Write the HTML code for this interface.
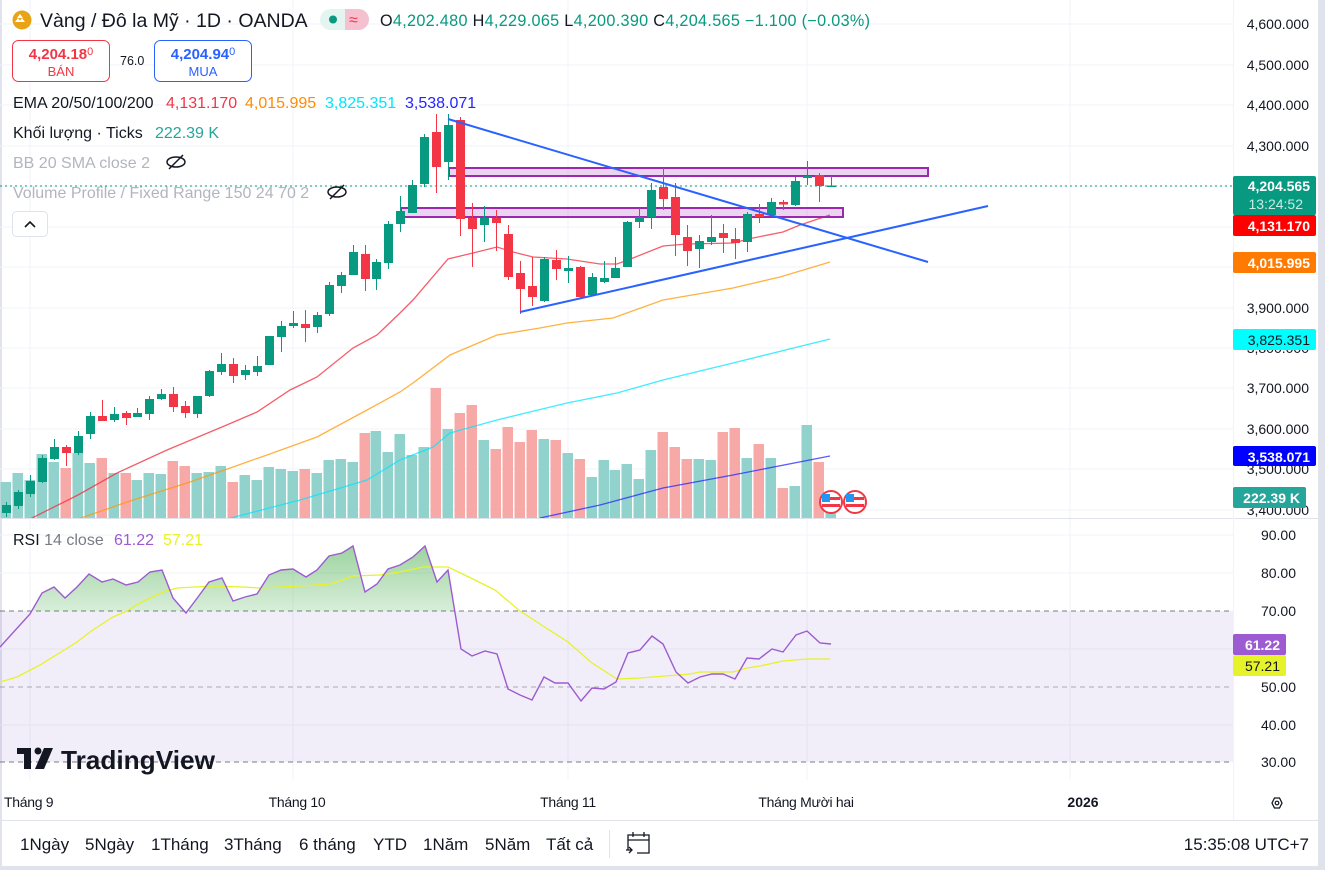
<!DOCTYPE html>
<html><head><meta charset="utf-8">
<style>
html,body{margin:0;padding:0;background:#fff;}
body{width:1325px;height:870px;overflow:hidden;position:relative;font-family:"Liberation Sans","Noto Sans CJK SC",sans-serif;}
svg text{font-family:"Liberation Sans","Noto Sans CJK SC",sans-serif;}
</style></head><body>
<svg width="1325" height="870" viewBox="0 0 1325 870" xmlns="http://www.w3.org/2000/svg">
<defs>
<clipPath id="main"><rect x="0" y="0" width="1233" height="518"/></clipPath>
<clipPath id="ob"><rect x="0" y="520" width="1233" height="91"/></clipPath>
<linearGradient id="gf" x1="0" y1="0" x2="0" y2="1"><stop offset="0" stop-color="#4caf50" stop-opacity="0.55"/><stop offset="1" stop-color="#4caf50" stop-opacity="0.02"/></linearGradient>
</defs>
<rect width="1325" height="870" fill="#fff"/>
<rect x="1318" y="0" width="7" height="870" fill="#e0e3eb"/>
<rect x="0" y="0" width="2" height="870" fill="#e0e3eb"/>
<rect x="0" y="866" width="1325" height="4" fill="#e0e3eb"/>
<g stroke="#f0f3fa" stroke-width="1">
<line x1="0" x2="1233" y1="24" y2="24"/><line x1="0" x2="1233" y1="65" y2="65"/><line x1="0" x2="1233" y1="105" y2="105"/><line x1="0" x2="1233" y1="146" y2="146"/><line x1="0" x2="1233" y1="186" y2="186"/><line x1="0" x2="1233" y1="227" y2="227"/><line x1="0" x2="1233" y1="267" y2="267"/><line x1="0" x2="1233" y1="308" y2="308"/><line x1="0" x2="1233" y1="348" y2="348"/><line x1="0" x2="1233" y1="388" y2="388"/><line x1="0" x2="1233" y1="429" y2="429"/><line x1="0" x2="1233" y1="469" y2="469"/><line x1="0" x2="1233" y1="510" y2="510"/>
<line x1="0" x2="1233" y1="535" y2="535"/><line x1="0" x2="1233" y1="573" y2="573"/><line x1="0" x2="1233" y1="649" y2="649"/><line x1="0" x2="1233" y1="725" y2="725"/>
<line x1="30" x2="30" y1="0" y2="780"/><line x1="293" x2="293" y1="0" y2="780"/><line x1="568" x2="568" y1="0" y2="780"/><line x1="807" x2="807" y1="0" y2="780"/><line x1="1070" x2="1070" y1="0" y2="780"/>
</g>
<line x1="0" x2="1318" y1="518.5" y2="518.5" stroke="#e0e3eb"/>
<line x1="0" x2="1318" y1="820.5" y2="820.5" stroke="#e0e3eb"/>
<line x1="1233.5" x2="1233.5" y1="0" y2="820" stroke="#f0f3fa"/>

<g clip-path="url(#main)">
<g id="vol">
<rect x="0.5" y="482" width="10.5" height="36" fill="#92d2cc"/><rect x="12.5" y="473" width="10.5" height="45" fill="#92d2cc"/><rect x="24.5" y="480" width="10.5" height="38" fill="#92d2cc"/><rect x="36.5" y="454" width="10.5" height="64" fill="#92d2cc"/><rect x="48.5" y="462" width="10.5" height="56" fill="#92d2cc"/><rect x="60.5" y="468" width="10.5" height="50" fill="#f7a9a7"/><rect x="72.5" y="453" width="10.5" height="65" fill="#92d2cc"/><rect x="84.5" y="463" width="10.5" height="55" fill="#92d2cc"/><rect x="96.5" y="458" width="10.5" height="60" fill="#f7a9a7"/><rect x="108.5" y="473" width="10.5" height="45" fill="#92d2cc"/><rect x="120.5" y="473" width="10.5" height="45" fill="#f7a9a7"/><rect x="131.5" y="480" width="10.5" height="38" fill="#92d2cc"/><rect x="143.5" y="473" width="10.5" height="45" fill="#92d2cc"/><rect x="155.5" y="474" width="10.5" height="44" fill="#92d2cc"/><rect x="167.5" y="461" width="10.5" height="57" fill="#f7a9a7"/><rect x="179.5" y="466" width="10.5" height="52" fill="#f7a9a7"/><rect x="191.5" y="473" width="10.5" height="45" fill="#92d2cc"/><rect x="203.5" y="472" width="10.5" height="46" fill="#92d2cc"/><rect x="215.5" y="466" width="10.5" height="52" fill="#92d2cc"/><rect x="227.5" y="482" width="10.5" height="36" fill="#f7a9a7"/><rect x="239.5" y="475" width="10.5" height="43" fill="#92d2cc"/><rect x="251.5" y="480" width="10.5" height="38" fill="#92d2cc"/><rect x="263.5" y="467" width="10.5" height="51" fill="#92d2cc"/><rect x="275.5" y="469" width="10.5" height="49" fill="#92d2cc"/><rect x="287.5" y="471" width="10.5" height="47" fill="#92d2cc"/><rect x="299.5" y="469" width="10.5" height="49" fill="#f7a9a7"/><rect x="311.5" y="473" width="10.5" height="45" fill="#92d2cc"/><rect x="323.5" y="460" width="10.5" height="58" fill="#92d2cc"/><rect x="335.5" y="459" width="10.5" height="59" fill="#92d2cc"/><rect x="347.5" y="462" width="10.5" height="56" fill="#92d2cc"/><rect x="359.5" y="433" width="10.5" height="85" fill="#f7a9a7"/><rect x="370.5" y="431" width="10.5" height="87" fill="#92d2cc"/><rect x="382.5" y="452" width="10.5" height="66" fill="#92d2cc"/><rect x="394.5" y="434" width="10.5" height="84" fill="#92d2cc"/><rect x="406.5" y="455" width="10.5" height="63" fill="#92d2cc"/><rect x="418.5" y="447" width="10.5" height="71" fill="#92d2cc"/><rect x="430.5" y="388" width="10.5" height="130" fill="#f7a9a7"/><rect x="442.5" y="429" width="10.5" height="89" fill="#92d2cc"/><rect x="454.5" y="413" width="10.5" height="105" fill="#f7a9a7"/><rect x="466.5" y="405" width="10.5" height="113" fill="#f7a9a7"/><rect x="478.5" y="440" width="10.5" height="78" fill="#92d2cc"/><rect x="490.5" y="449" width="10.5" height="69" fill="#f7a9a7"/><rect x="502.5" y="427" width="10.5" height="91" fill="#f7a9a7"/><rect x="514.5" y="442" width="10.5" height="76" fill="#f7a9a7"/><rect x="526.5" y="430" width="10.5" height="88" fill="#f7a9a7"/><rect x="538.5" y="439" width="10.5" height="79" fill="#92d2cc"/><rect x="550.5" y="440" width="10.5" height="78" fill="#f7a9a7"/><rect x="562.5" y="453" width="10.5" height="65" fill="#92d2cc"/><rect x="574.5" y="459" width="10.5" height="59" fill="#f7a9a7"/><rect x="586.5" y="477" width="10.5" height="41" fill="#92d2cc"/><rect x="598.5" y="460" width="10.5" height="58" fill="#92d2cc"/><rect x="609.5" y="470" width="10.5" height="48" fill="#92d2cc"/><rect x="621.5" y="464" width="10.5" height="54" fill="#92d2cc"/><rect x="633.5" y="479" width="10.5" height="39" fill="#92d2cc"/><rect x="645.5" y="450" width="10.5" height="68" fill="#92d2cc"/><rect x="657.5" y="432" width="10.5" height="86" fill="#f7a9a7"/><rect x="669.5" y="447" width="10.5" height="71" fill="#f7a9a7"/><rect x="681.5" y="459" width="10.5" height="59" fill="#f7a9a7"/><rect x="693.5" y="459" width="10.5" height="59" fill="#92d2cc"/><rect x="705.5" y="460" width="10.5" height="58" fill="#92d2cc"/><rect x="717.5" y="432" width="10.5" height="86" fill="#f7a9a7"/><rect x="729.5" y="428" width="10.5" height="90" fill="#f7a9a7"/><rect x="741.5" y="458" width="10.5" height="60" fill="#92d2cc"/><rect x="753.5" y="444" width="10.5" height="74" fill="#f7a9a7"/><rect x="765.5" y="458" width="10.5" height="60" fill="#92d2cc"/><rect x="777.5" y="488" width="10.5" height="30" fill="#f7a9a7"/><rect x="789.5" y="486" width="10.5" height="32" fill="#92d2cc"/><rect x="801.5" y="425" width="10.5" height="93" fill="#92d2cc"/><rect x="813.5" y="462" width="10.5" height="56" fill="#f7a9a7"/><rect x="825.5" y="508" width="10.5" height="10" fill="#92d2cc"/>
</g>
<polyline fill="none" stroke="#f23645" stroke-opacity="0.8" stroke-width="1.3" points="30,519 78,495 117,473 167,450 222,427 257,412 290,390 317,377 353,348 377,335 400,313 413,300 448,259 473,253 497,247 513,252 533,257 567,259 600,264 617,264 633,258 663,246 687,244 733,243 753,238 783,232 800,225 830,215"/>
<polyline fill="none" stroke="#ff9800" stroke-opacity="0.75" stroke-width="1.3" points="78,519 133,500 187,483 233,467 267,455 317,437 367,410 400,392 413,383 450,355 497,335 540,328 567,323 613,318 663,300 733,288 780,277 830,262"/>
<polyline fill="none" stroke="#00e5ff" stroke-opacity="0.75" stroke-width="1.3" points="227,519 300,500 367,480 400,460 433,447 450,433 497,420 567,403 617,393 663,380 733,363 830,339"/>
<polyline fill="none" stroke="#2424ff" stroke-opacity="0.75" stroke-width="1.3" points="540,518 600,505 663,488 733,475 830,456"/>
<line x1="0" x2="1233" y1="186" y2="186" stroke="#089981" stroke-width="1" stroke-dasharray="2,3"/>
<rect x="449" y="168" width="479" height="8" fill="#9c27b0" fill-opacity="0.2" stroke="#9c27b0" stroke-width="2"/>
<rect x="401" y="208" width="442" height="9" fill="#9c27b0" fill-opacity="0.2" stroke="#9c27b0" stroke-width="2"/>
<g id="candles">
<line x1="6.5" x2="6.5" y1="502" y2="517" stroke="#089981"/><rect x="2" y="505" width="9" height="8" fill="#089981"/>
<line x1="18.5" x2="18.5" y1="490" y2="509" stroke="#089981"/><rect x="14" y="492" width="9" height="14" fill="#089981"/>
<line x1="30.5" x2="30.5" y1="475" y2="497" stroke="#089981"/><rect x="26" y="481" width="9" height="13" fill="#089981"/>
<line x1="42.5" x2="42.5" y1="455" y2="483" stroke="#089981"/><rect x="38" y="458" width="9" height="24" fill="#089981"/>
<line x1="54.5" x2="54.5" y1="439" y2="460" stroke="#089981"/><rect x="50" y="447" width="9" height="12" fill="#089981"/>
<line x1="66.5" x2="66.5" y1="445" y2="466" stroke="#f23645"/><rect x="62" y="447" width="9" height="6" fill="#f23645"/>
<line x1="78.5" x2="78.5" y1="431" y2="455" stroke="#089981"/><rect x="74" y="436" width="9" height="17" fill="#089981"/>
<line x1="90.5" x2="90.5" y1="412" y2="439" stroke="#089981"/><rect x="86" y="416" width="9" height="18" fill="#089981"/>
<line x1="102.5" x2="102.5" y1="400" y2="421" stroke="#f23645"/><rect x="98" y="416" width="9" height="5" fill="#f23645"/>
<line x1="114.5" x2="114.5" y1="407" y2="422" stroke="#089981"/><rect x="110" y="414" width="9" height="6" fill="#089981"/>
<line x1="126.5" x2="126.5" y1="411" y2="425" stroke="#f23645"/><rect x="122" y="413" width="9" height="5" fill="#f23645"/>
<line x1="137.5" x2="137.5" y1="408" y2="417" stroke="#089981"/><rect x="133" y="413" width="9" height="4" fill="#089981"/>
<line x1="149.5" x2="149.5" y1="396" y2="420" stroke="#089981"/><rect x="145" y="399" width="9" height="15" fill="#089981"/>
<line x1="161.5" x2="161.5" y1="389" y2="400" stroke="#089981"/><rect x="157" y="394" width="9" height="5" fill="#089981"/>
<line x1="173.5" x2="173.5" y1="387" y2="412" stroke="#f23645"/><rect x="169" y="394" width="9" height="13" fill="#f23645"/>
<line x1="185.5" x2="185.5" y1="401" y2="418" stroke="#f23645"/><rect x="181" y="406" width="9" height="7" fill="#f23645"/>
<line x1="197.5" x2="197.5" y1="396" y2="418" stroke="#089981"/><rect x="193" y="396" width="9" height="18" fill="#089981"/>
<line x1="209.5" x2="209.5" y1="370" y2="397" stroke="#089981"/><rect x="205" y="371" width="9" height="25" fill="#089981"/>
<line x1="221.5" x2="221.5" y1="353" y2="375" stroke="#089981"/><rect x="217" y="364" width="9" height="8" fill="#089981"/>
<line x1="233.5" x2="233.5" y1="358" y2="383" stroke="#f23645"/><rect x="229" y="364" width="9" height="12" fill="#f23645"/>
<line x1="245.5" x2="245.5" y1="365" y2="380" stroke="#089981"/><rect x="241" y="370" width="9" height="5" fill="#089981"/>
<line x1="257.5" x2="257.5" y1="356" y2="376" stroke="#089981"/><rect x="253" y="366" width="9" height="6" fill="#089981"/>
<line x1="269.5" x2="269.5" y1="336" y2="365" stroke="#089981"/><rect x="265" y="336" width="9" height="29" fill="#089981"/>
<line x1="281.5" x2="281.5" y1="321" y2="352" stroke="#089981"/><rect x="277" y="326" width="9" height="11" fill="#089981"/>
<line x1="293.5" x2="293.5" y1="311" y2="328" stroke="#089981"/><rect x="289" y="323" width="9" height="3" fill="#089981"/>
<line x1="305.5" x2="305.5" y1="310" y2="342" stroke="#f23645"/><rect x="301" y="324" width="9" height="4" fill="#f23645"/>
<line x1="317.5" x2="317.5" y1="312" y2="333" stroke="#089981"/><rect x="313" y="315" width="9" height="12" fill="#089981"/>
<line x1="329.5" x2="329.5" y1="282" y2="316" stroke="#089981"/><rect x="325" y="285" width="9" height="29" fill="#089981"/>
<line x1="341.5" x2="341.5" y1="272" y2="293" stroke="#089981"/><rect x="337" y="275" width="9" height="11" fill="#089981"/>
<line x1="353.5" x2="353.5" y1="245" y2="275" stroke="#089981"/><rect x="349" y="252" width="9" height="23" fill="#089981"/>
<line x1="365.5" x2="365.5" y1="245" y2="291" stroke="#f23645"/><rect x="361" y="254" width="9" height="25" fill="#f23645"/>
<line x1="376.5" x2="376.5" y1="259" y2="290" stroke="#089981"/><rect x="372" y="262" width="9" height="17" fill="#089981"/>
<line x1="388.5" x2="388.5" y1="221" y2="269" stroke="#089981"/><rect x="384" y="224" width="9" height="39" fill="#089981"/>
<line x1="400.5" x2="400.5" y1="196" y2="232" stroke="#089981"/><rect x="396" y="211" width="9" height="13" fill="#089981"/>
<line x1="412.5" x2="412.5" y1="180" y2="213" stroke="#089981"/><rect x="408" y="185" width="9" height="28" fill="#089981"/>
<line x1="424.5" x2="424.5" y1="134" y2="187" stroke="#089981"/><rect x="420" y="137" width="9" height="47" fill="#089981"/>
<line x1="436.5" x2="436.5" y1="114" y2="193" stroke="#f23645"/><rect x="432" y="132" width="9" height="35" fill="#f23645"/>
<line x1="448.5" x2="448.5" y1="114" y2="180" stroke="#089981"/><rect x="444" y="125" width="9" height="37" fill="#089981"/>
<line x1="460.5" x2="460.5" y1="117" y2="236" stroke="#f23645"/><rect x="456" y="120" width="9" height="99" fill="#f23645"/>
<line x1="472.5" x2="472.5" y1="203" y2="267" stroke="#f23645"/><rect x="468" y="218" width="9" height="11" fill="#f23645"/>
<line x1="484.5" x2="484.5" y1="206" y2="242" stroke="#089981"/><rect x="480" y="218" width="9" height="7" fill="#089981"/>
<line x1="496.5" x2="496.5" y1="210" y2="251" stroke="#f23645"/><rect x="492" y="218" width="9" height="5" fill="#f23645"/>
<line x1="508.5" x2="508.5" y1="225" y2="280" stroke="#f23645"/><rect x="504" y="234" width="9" height="43" fill="#f23645"/>
<line x1="520.5" x2="520.5" y1="261" y2="314" stroke="#f23645"/><rect x="516" y="273" width="9" height="16" fill="#f23645"/>
<line x1="532.5" x2="532.5" y1="257" y2="306" stroke="#f23645"/><rect x="528" y="286" width="9" height="11" fill="#f23645"/>
<line x1="544.5" x2="544.5" y1="257" y2="302" stroke="#089981"/><rect x="540" y="259" width="9" height="42" fill="#089981"/>
<line x1="556.5" x2="556.5" y1="250" y2="280" stroke="#f23645"/><rect x="552" y="260" width="9" height="9" fill="#f23645"/>
<line x1="568.5" x2="568.5" y1="256" y2="283" stroke="#089981"/><rect x="564" y="268" width="9" height="3" fill="#089981"/>
<line x1="580.5" x2="580.5" y1="266" y2="299" stroke="#f23645"/><rect x="576" y="267" width="9" height="30" fill="#f23645"/>
<line x1="592.5" x2="592.5" y1="273" y2="296" stroke="#089981"/><rect x="588" y="277" width="9" height="18" fill="#089981"/>
<line x1="604.5" x2="604.5" y1="261" y2="283" stroke="#089981"/><rect x="600" y="278" width="9" height="4" fill="#089981"/>
<line x1="615.5" x2="615.5" y1="257" y2="278" stroke="#089981"/><rect x="611" y="268" width="9" height="10" fill="#089981"/>
<line x1="627.5" x2="627.5" y1="221" y2="267" stroke="#089981"/><rect x="623" y="222" width="9" height="45" fill="#089981"/>
<line x1="639.5" x2="639.5" y1="208" y2="228" stroke="#089981"/><rect x="635" y="217" width="9" height="5" fill="#089981"/>
<line x1="651.5" x2="651.5" y1="183" y2="229" stroke="#089981"/><rect x="647" y="190" width="9" height="27" fill="#089981"/>
<line x1="663.5" x2="663.5" y1="168" y2="210" stroke="#f23645"/><rect x="659" y="187" width="9" height="12" fill="#f23645"/>
<line x1="675.5" x2="675.5" y1="183" y2="256" stroke="#f23645"/><rect x="671" y="197" width="9" height="38" fill="#f23645"/>
<line x1="687.5" x2="687.5" y1="225" y2="266" stroke="#f23645"/><rect x="683" y="237" width="9" height="14" fill="#f23645"/>
<line x1="699.5" x2="699.5" y1="235" y2="268" stroke="#089981"/><rect x="695" y="241" width="9" height="8" fill="#089981"/>
<line x1="711.5" x2="711.5" y1="215" y2="245" stroke="#089981"/><rect x="707" y="237" width="9" height="5" fill="#089981"/>
<line x1="723.5" x2="723.5" y1="224" y2="253" stroke="#f23645"/><rect x="719" y="233" width="9" height="5" fill="#f23645"/>
<line x1="735.5" x2="735.5" y1="228" y2="259" stroke="#f23645"/><rect x="731" y="239" width="9" height="4" fill="#f23645"/>
<line x1="747.5" x2="747.5" y1="212" y2="252" stroke="#089981"/><rect x="743" y="214" width="9" height="28" fill="#089981"/>
<line x1="759.5" x2="759.5" y1="204" y2="223" stroke="#f23645"/><rect x="755" y="214" width="9" height="3" fill="#f23645"/>
<line x1="771.5" x2="771.5" y1="198" y2="215" stroke="#089981"/><rect x="767" y="202" width="9" height="13" fill="#089981"/>
<line x1="783.5" x2="783.5" y1="200" y2="210" stroke="#f23645"/><rect x="779" y="202" width="9" height="2.5" fill="#f23645"/>
<line x1="795.5" x2="795.5" y1="177" y2="206" stroke="#089981"/><rect x="791" y="181" width="9" height="24" fill="#089981"/>
<line x1="807.5" x2="807.5" y1="161" y2="185" stroke="#089981"/><rect x="803" y="176" width="9" height="2" fill="#089981"/>
<line x1="819.5" x2="819.5" y1="173" y2="202" stroke="#f23645"/><rect x="815" y="175" width="9" height="11" fill="#f23645"/>
<line x1="831.5" x2="831.5" y1="176" y2="187" stroke="#089981"/><rect x="827" y="185.5" width="9" height="1.5" fill="#089981"/>
</g>
<line x1="448" y1="119" x2="928" y2="262" stroke="#2962ff" stroke-width="2"/>
<line x1="520" y1="312" x2="988" y2="206" stroke="#2962ff" stroke-width="2"/>
<g><circle cx="831" cy="502" r="11" fill="#fff" stroke="#f23645" stroke-width="2"/><rect x="822" y="497" width="18" height="3" fill="#f23645"/><rect x="822" y="504" width="18" height="3" fill="#f23645"/><rect x="822" y="494" width="8" height="8" fill="#2196f3"/></g>
<g><circle cx="855" cy="502" r="11" fill="#fff" stroke="#f23645" stroke-width="2"/><rect x="846" y="497" width="18" height="3" fill="#f23645"/><rect x="846" y="504" width="18" height="3" fill="#f23645"/><rect x="846" y="494" width="8" height="8" fill="#2196f3"/></g>
</g>

<rect x="0" y="611" width="1233" height="151" fill="#7e57c2" fill-opacity="0.1"/>
<g stroke="#787b86" stroke-dasharray="5,4" stroke-width="1">
<line x1="0" x2="1233" y1="611" y2="611"/><line x1="0" x2="1233" y1="687" y2="687" stroke-opacity="0.6"/><line x1="0" x2="1233" y1="762" y2="762"/>
</g>
<path clip-path="url(#ob)" fill="url(#gf)" d="M0,647 L30,614 L42,593 L54,587 L65,598 L77,587 L89,574 L102,582 L113,579 L126,585 L138,582 L150,572 L162,570 L173,598 L186,613 L198,597 L209,582 L222,578 L233,601 L245,597 L257,594 L269,575 L281,570 L293,569 L306,577 L317,570 L329,556 L342,553 L353,546 L365,592 L377,584 L388,569 L400,565 L413,557 L425,546 L437,582 L448,570 L461,649 L461,611 L0,611 Z"/>
<polyline fill="none" stroke="#e6f22a" stroke-width="1.3" points="0,682 17,677 40,665 77,642 90,632 102,624 113,617 127,611 140,603 163,592 177,588 213,586 243,587 260,588 300,586 330,584 340,581 353,576 380,575 400,572 423,567 448,567 473,579 495,590 520,611 543,626 568,642 592,663 617,679 640,678 690,674 700,672 733,672 747,668 760,666 783,661 807,659 830,659"/>
<polyline fill="none" stroke="#9c5bd0" stroke-width="1.4" points="0,647 30,614 42,593 54,587 65,598 77,587 89,574 102,582 113,579 126,585 138,582 150,572 162,570 173,598 186,613 198,597 209,582 222,578 233,601 245,597 257,594 269,575 281,570 293,569 306,577 317,570 329,556 342,553 353,546 365,592 377,584 388,569 400,565 413,557 425,546 437,582 448,570 461,649 472,656 485,651 497,654 508,689 520,695 532,700 544,677 555,683 568,683 581,701 592,688 604,689 616,682 628,653 640,650 652,636 663,644 676,672 688,683 700,677 712,674 723,674 735,679 747,658 759,659 772,649 783,652 796,635 807,631 820,643 831,644"/>

<g fill="#131722">
<rect x="17" y="748" width="14" height="6"/><rect x="24" y="748" width="7" height="21"/>
<circle cx="38" cy="751" r="3.5"/>
<polygon points="44,748 53,748 44,769 35,769"/>
<text x="61" y="769" font-size="26" font-weight="bold" textLength="154" lengthAdjust="spacingAndGlyphs">TradingView</text>
</g>

<circle cx="22" cy="20" r="9.5" fill="#e8a317"/>
<path d="M15,22 l3,-4 l3,4 z M19,22 l3,-4 l3,4 z M17,18 l3,-4 l3,4 z" fill="#fff"/>
<text x="40" y="27" font-size="19.5" fill="#131722">Vàng / Đô la Mỹ · 1D · OANDA</text>
<rect x="320" y="9" width="49" height="21" rx="10.5" fill="#e3f4f1"/>
<path d="M345,9 h13.5 a10.5,10.5 0 0 1 0,21 h-13.5 z" fill="#f5c1d1"/>
<circle cx="333" cy="19.5" r="4" fill="#089981"/>
<text x="349" y="25" font-size="16" fill="#f23645">≈</text>
<text x="380" y="26" font-size="16.2" fill="#131722" textLength="490" lengthAdjust="spacing">O<tspan fill="#089981">4,202.480</tspan> H<tspan fill="#089981">4,229.065</tspan> L<tspan fill="#089981">4,200.390</tspan> C<tspan fill="#089981">4,204.565</tspan> <tspan fill="#089981">−1.100 (−0.03%)</tspan></text>

<rect x="12.5" y="40.5" width="97" height="41" rx="6" fill="#fff" stroke="#f23645"/>
<text x="61" y="59" font-size="15" font-weight="bold" fill="#f23645" text-anchor="middle">4,204.18<tspan font-size="11" dy="-4" font-weight="normal">0</tspan></text>
<text x="61" y="76" font-size="13" fill="#f23645" text-anchor="middle">BÁN</text>
<text x="120" y="65" font-size="12.5" fill="#131722">76.0</text>
<rect x="154.5" y="40.5" width="97" height="41" rx="6" fill="#fff" stroke="#2962ff"/>
<text x="203" y="59" font-size="15" font-weight="bold" fill="#2962ff" text-anchor="middle">4,204.94<tspan font-size="11" dy="-4" font-weight="normal">0</tspan></text>
<text x="203" y="76" font-size="13" fill="#2962ff" text-anchor="middle">MUA</text>

<text x="13" y="108" font-size="16" fill="#131722">EMA 20/50/100/200 <tspan x="166" fill="#f23645">4,131.170</tspan><tspan x="245" fill="#ff8c00">4,015.995</tspan><tspan x="325" fill="#00e5ff">3,825.351</tspan><tspan x="405" fill="#2424ff">3,538.071</tspan></text>
<text x="13" y="138" font-size="16" fill="#131722">Khối lượng · Ticks <tspan x="155" fill="#26a69a">222.39 K</tspan></text>
<text x="13" y="168" font-size="16" fill="#b2b5be">BB 20 SMA close 2</text>
<g fill="none" stroke="#131722" stroke-width="1.5"><ellipse cx="176" cy="162" rx="9" ry="5"/><line x1="169" y1="169" x2="183" y2="155"/></g>
<text x="13" y="198" font-size="16" fill="#b2b5be">Volume Profile / Fixed Range 150 24 70 2</text>
<g fill="none" stroke="#131722" stroke-width="1.5"><ellipse cx="337" cy="192" rx="9" ry="5"/><line x1="330" y1="199" x2="344" y2="185"/></g>
<rect x="12.5" y="211.5" width="35" height="25" rx="4" fill="#fff" stroke="#e0e3eb"/>
<path d="M25,227 l5,-5 l5,5" fill="none" stroke="#131722" stroke-width="1.6"/>

<text x="13" y="545" font-size="16" fill="#131722">RSI <tspan fill="#787b86">14 close</tspan> <tspan x="114" fill="#9c5bd0">61.22</tspan><tspan x="163" fill="#e6f22a">57.21</tspan></text>

<g font-size="14" fill="#131722" text-anchor="end">
<text x="1309" y="29">4,600.000</text><text x="1309" y="70">4,500.000</text><text x="1309" y="110">4,400.000</text><text x="1309" y="151">4,300.000</text><text x="1309" y="313">3,900.000</text><text x="1309" y="353">3,800.000</text><text x="1309" y="393">3,700.000</text><text x="1309" y="434">3,600.000</text><text x="1309" y="474">3,500.000</text><text x="1309" y="515">3,400.000</text>
<text x="1296" y="540">90.00</text><text x="1296" y="578">80.00</text><text x="1296" y="616">70.00</text><text x="1296" y="692">50.00</text><text x="1296" y="730">40.00</text><text x="1296" y="767">30.00</text>
</g>
<g font-size="14" font-weight="bold" text-anchor="end">
<rect x="1233" y="176" width="83" height="39" rx="2" fill="#089981"/><text x="1310" y="191" fill="#fff">4,204.565</text><text x="1303" y="209" fill="#c8ebe4" font-weight="normal">13:24:52</text>
<rect x="1233" y="215" width="83" height="21" rx="2" fill="#ff0000"/><text x="1310" y="231" fill="#fff">4,131.170</text>
<rect x="1233" y="252" width="83" height="21" rx="2" fill="#ff7a00"/><text x="1310" y="268" fill="#fff">4,015.995</text>
<rect x="1233" y="329" width="83" height="21" rx="2" fill="#00ffff"/><text x="1310" y="345" fill="#131722" font-weight="normal">3,825.351</text>
<rect x="1233" y="446" width="83" height="20" rx="2" fill="#0000ff"/><text x="1310" y="462" fill="#fff">3,538.071</text>
<rect x="1233" y="487" width="73" height="21" rx="2" fill="#26a69a"/><text x="1300" y="503" fill="#fff">222.39 K</text>
<rect x="1233" y="634" width="53" height="21" rx="2" fill="#9c5bd0"/><text x="1280" y="650" fill="#fff">61.22</text>
<rect x="1233" y="655" width="53" height="21" rx="2" fill="#e6f22a"/><text x="1280" y="671" fill="#131722" font-weight="normal">57.21</text>
</g>

<g font-size="14" fill="#131722">
<text x="4" y="807" letter-spacing="-0.3">Tháng 9</text>
<text x="297" y="807" text-anchor="middle" letter-spacing="-0.3">Tháng 10</text>
<text x="568" y="807" text-anchor="middle" letter-spacing="-0.3">Tháng 11</text>
<text x="806" y="807" text-anchor="middle" letter-spacing="-0.3">Tháng Mười hai</text>
<text x="1083" y="807" text-anchor="middle" font-weight="bold">2026</text>
</g>
<polygon points="1272,803 1274.5,798 1279.5,798 1282,803 1279.5,808 1274.5,808" fill="none" stroke="#131722" stroke-width="1.3"/>
<circle cx="1277" cy="803" r="1.8" fill="none" stroke="#131722" stroke-width="1.2"/>

<g font-size="17" fill="#131722">
<text x="20" y="850">1Ngày</text><text x="85" y="850">5Ngày</text><text x="151" y="850">1Tháng</text><text x="224" y="850">3Tháng</text><text x="299" y="850">6 tháng</text><text x="373" y="850">YTD</text><text x="423" y="850">1Năm</text><text x="485" y="850">5Năm</text><text x="546" y="850">Tất cả</text>
<text x="1309" y="850" text-anchor="end">15:35:08 UTC+7</text>
</g>
<line x1="609.5" x2="609.5" y1="830" y2="858" stroke="#e0e3eb"/>
<g fill="none" stroke="#131722" stroke-width="1.3">
<path d="M628,850 v-15 h21 v18 h-12"/><line x1="628" y1="840" x2="649" y2="840"/><line x1="633" y1="832" x2="633" y2="837"/><line x1="644" y1="832" x2="644" y2="837"/>
<path d="M626,850 h6 M629,847 l3,3 l-3,3"/>
</g>
</svg>
</body></html>
